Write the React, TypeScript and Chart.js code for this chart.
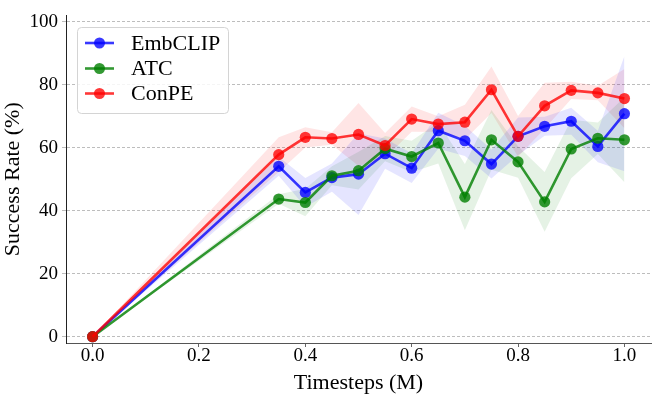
import React, { useEffect, useRef } from "react";
import { Chart, registerables } from "chart.js";

Chart.register(...registerables);

const timesteps = [0, 0.35, 0.4, 0.45, 0.5, 0.55, 0.6, 0.65, 0.7, 0.75, 0.8, 0.85, 0.9, 0.95, 1.0];
const embclip = [0, 54.1, 45.8, 50.5, 51.6, 58.1, 53.5, 65.4, 62.2, 54.8, 63.6, 66.8, 68.4, 60.4, 70.8];
const embclipStd = [0, 3, 4.6, 4.5, 13, 4.8, 4.7, 5.7, 4.8, 4.6, 6, 3, 4.3, 5, 18.3];
const atc = [0, 43.7, 42.6, 51.1, 52.7, 59.7, 57.2, 61.5, 44.3, 62.5, 55.5, 42.8, 59.6, 63.0, 62.5];
const atcStd = [0, 1.5, 4.4, 3, 6, 4, 5, 6.5, 10.5, 9.5, 5, 9.5, 9.3, 5, 13.5];
const conpe = [0, 57.8, 63.3, 62.9, 64.2, 60.7, 69.1, 67.5, 68.1, 78.4, 63.6, 73.3, 78.2, 77.4, 75.6];
const conpeStd = [0, 5.5, 3.2, 2, 10, 4, 4, 2.5, 5.5, 7.4, 6.5, 7.3, 2.7, 2.3, 9.4];

const xTicks = [0, 0.2, 0.4, 0.6, 0.8, 1.0];
const yTicks = [0, 20, 40, 60, 80, 100];

const seriesNames = ["EmbCLIP", "ATC", "ConPE"];
const seriesValues = [embclip, atc, conpe];
const seriesStd = [embclipStd, atcStd, conpeStd];
const lineColors = ["rgba(0,0,255,0.78)", "rgba(0,128,0,0.8)", "rgba(255,0,0,0.78)"];
const bandColors = ["rgba(0,0,255,0.1)", "rgba(0,128,0,0.1)", "rgba(255,0,0,0.1)"];

const FONT = '"Liberation Serif", "Times New Roman", Times, serif';

const legendPlugin = {
  id: "boxLegend",
  afterDraw(chart: any) {
    const ctx = chart.ctx;
    ctx.save();
    const x = 77.5, y = 27.5, w = 151, h = 86, r = 4;
    ctx.beginPath();
    ctx.moveTo(x + r, y);
    ctx.lineTo(x + w - r, y);
    ctx.arcTo(x + w, y, x + w, y + r, r);
    ctx.lineTo(x + w, y + h - r);
    ctx.arcTo(x + w, y + h, x + w - r, y + h, r);
    ctx.lineTo(x + r, y + h);
    ctx.arcTo(x, y + h, x, y + h - r, r);
    ctx.lineTo(x, y + r);
    ctx.arcTo(x, y, x + r, y, r);
    ctx.closePath();
    ctx.fillStyle = "rgba(255,255,255,0.85)";
    ctx.fill();
    ctx.strokeStyle = "#d4d4d4";
    ctx.lineWidth = 1;
    ctx.stroke();
    const rows = [43, 68.5, 93.5];
    seriesNames.forEach((name, i) => {
      const cy = rows[i];
      ctx.strokeStyle = lineColors[i];
      ctx.lineWidth = 2.6;
      ctx.beginPath();
      ctx.moveTo(85, cy);
      ctx.lineTo(114, cy);
      ctx.stroke();
      ctx.fillStyle = lineColors[i];
      ctx.beginPath();
      ctx.arc(99.5, cy, 5.5, 0, Math.PI * 2);
      ctx.fill();
      ctx.fillStyle = "#000";
      ctx.font = `22px ${FONT}`;
      ctx.textBaseline = "middle";
      ctx.textAlign = "left";
      ctx.fillText(name, 131, cy + 1);
    });
    ctx.restore();
  },
};

export default function App() {
  const ref = useRef<HTMLCanvasElement | null>(null);
  useEffect(() => {
    document.body.style.margin = "0";
    const canvas = ref.current!;
    let chart: any = null;
    let cancelled = false;

    const build = () => {
      if (cancelled) return;
      const datasets: any[] = [];
      seriesValues.forEach((vals, i) => {
        datasets.push({
          label: seriesNames[i] + " lower",
          data: timesteps.map((t, k) => ({ x: t, y: vals[k] - seriesStd[i][k] })),
          borderWidth: 0,
          pointRadius: 0,
          fill: false,
          order: 10,
        });
        datasets.push({
          label: seriesNames[i] + " upper",
          data: timesteps.map((t, k) => ({ x: t, y: vals[k] + seriesStd[i][k] })),
          borderWidth: 0,
          pointRadius: 0,
          backgroundColor: bandColors[i],
          fill: "-1",
          order: 10,
        });
      });
      seriesValues.forEach((vals, i) => {
        datasets.push({
          label: seriesNames[i],
          data: timesteps.map((t, k) => ({ x: t, y: vals[k] })),
          borderColor: lineColors[i],
          backgroundColor: lineColors[i],
          pointBackgroundColor: lineColors[i],
          pointBorderWidth: 0,
          pointRadius: 5.6,
          borderWidth: 2.6,
          fill: false,
          order: 3 - i,
        });
      });

      chart = new Chart(canvas, {
        type: "line",
        data: { datasets },
        plugins: [legendPlugin],
        options: {
          responsive: false,
          animation: false,
          devicePixelRatio: 1,
          layout: { padding: { top: 15, right: 13, left: 0, bottom: 0 } },
          plugins: {
            legend: { display: false },
            tooltip: { enabled: false },
          },
          scales: {
            x: {
              type: "linear",
              min: -0.05,
              max: 1.05,
              afterBuildTicks: (s: any) => {
                s.ticks = xTicks.map((v) => ({ value: v }));
              },
              afterFit: (s: any) => {
                s.height = 56;
              },
              ticks: {
                color: "#000",
                font: { family: FONT, size: 19 },
                padding: -2,
                maxRotation: 0,
                autoSkip: false,
                callback: (v: any) => Number(v).toFixed(1),
              },
              grid: {
                display: true,
                drawOnChartArea: false,
                drawTicks: true,
                tickLength: 4,
                tickColor: "#666",
              },
              border: { display: true, color: "#555", width: 1 },
              title: {
                display: true,
                text: "Timesteps (M)",
                color: "#000",
                font: { family: FONT, size: 22 },
                padding: { top: 0, bottom: 3 },
              },
            },
            y: {
              type: "linear",
              min: -2,
              max: 102,
              afterBuildTicks: (s: any) => {
                s.ticks = yTicks.map((v) => ({ value: v }));
              },
              afterFit: (s: any) => {
                s.width = 66;
              },
              ticks: {
                color: "#000",
                font: { family: FONT, size: 19 },
                padding: 4,
                autoSkip: false,
              },
              grid: {
                display: true,
                drawOnChartArea: true,
                drawTicks: true,
                tickLength: 4,
                color: "#bdbdbd",
                tickColor: "#bdbdbd",
                lineWidth: 1,
              },
              border: { display: true, color: "#222", width: 1, dash: [3, 2] } as any,
              title: {
                display: true,
                text: "Success Rate (%)",
                color: "#000",
                font: { family: FONT, size: 22 },
                padding: { top: 0, bottom: 0 },
              },
            },
          },
        } as any,
      });
    };

    const fonts: any = (document as any).fonts;
    if (fonts && fonts.load) {
      Promise.all([
        fonts.load('22px "Liberation Serif"'),
        fonts.load('19px "Liberation Serif"'),
      ])
        .catch(() => null)
        .then(() => build());
    } else {
      build();
    }
    return () => {
      cancelled = true;
      if (chart) chart.destroy();
    };
  }, []);
  return <canvas ref={ref} width={664} height={399} style={{ display: "block" }} />;
}
